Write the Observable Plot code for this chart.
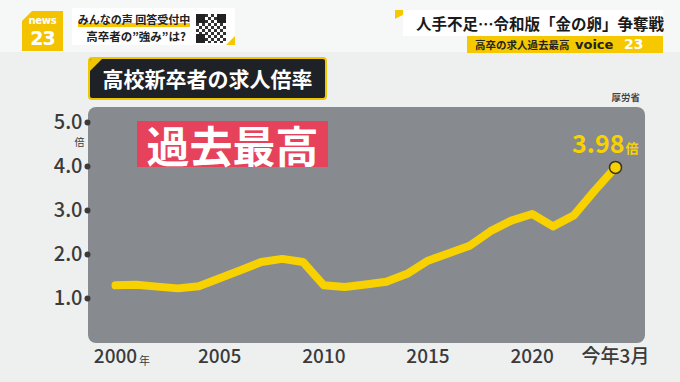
<!DOCTYPE html>
<html><head><meta charset="utf-8">
<script src="https://cdn.jsdelivr.net/npm/d3@7"></script>
<script src="https://cdn.jsdelivr.net/npm/@observablehq/plot@0.6"></script>
<style>
html,body{margin:0;padding:0;}
body{width:680px;height:382px;position:relative;overflow:hidden;background:#eef0f0;font-family:"Noto Sans CJK JP",sans-serif;}
.abs{position:absolute;}
#topband{left:0;top:0;width:680px;height:52px;background:#f6f7f7;}
#panel{left:88px;top:107px;width:557px;height:236px;background:#878b8f;border-radius:8px;}
#chart{position:absolute;left:0;top:0;}
#logo{left:22px;top:11px;width:41px;height:40px;background:#f3c300;clip-path:polygon(0 10px,10px 0,100% 0,100% 100%,0 100%);color:#fff;font-family:"DejaVu Sans",sans-serif;font-weight:bold;text-align:center;}
#logo .n{position:absolute;left:0;top:5px;width:41px;font-size:10px;line-height:10px;letter-spacing:-0.3px;}
#logo .t{position:absolute;left:0;top:17px;width:41px;font-size:19px;line-height:20px;letter-spacing:-1px;}
#box1{left:72px;top:8px;width:163px;height:37px;background:#fff;}
#box1 .l1{position:absolute;left:2px;top:3px;width:120px;font-size:11px;font-weight:bold;color:#222;line-height:16px;text-align:center;white-space:nowrap;}
#box1 .l1 span{background:linear-gradient(transparent 74%,#f5c800 74%);}
#box1 .l2{position:absolute;left:4px;top:20px;width:120px;font-size:11.5px;font-weight:bold;color:#222;line-height:16px;text-align:center;white-space:nowrap;}
#qr{left:196px;top:14px;width:30px;height:29px;background:
 linear-gradient(#222,#222) 0 0/9px 9px no-repeat,
 linear-gradient(#222,#222) 21px 0/9px 9px no-repeat,
 linear-gradient(#222,#222) 0 20px/9px 9px no-repeat,
 repeating-conic-gradient(#333 0 25%,#fff 0 50%) 0 0/6px 6px;}
#tri1{left:226px;top:36px;width:0;height:0;border-left:9px solid transparent;border-bottom:9px solid #f5c800;}
#box2{left:403px;top:10px;width:260px;height:26px;background:#fff;}
#box2 .t{position:absolute;left:13px;top:3px;font-size:15.5px;font-weight:bold;color:#1a1a1a;line-height:20px;white-space:nowrap;}
#tri2{left:395px;top:10px;width:0;height:0;border-top:9px solid #f5c800;border-right:17px solid transparent;}
#bar2{left:467px;top:36px;width:196px;height:17px;background:#f5c800;}
#bar2 .a{position:absolute;left:8px;top:0;font-size:10.5px;font-weight:bold;color:#222;line-height:17px;white-space:nowrap;}
#bar2 .v{position:absolute;left:108px;top:0;font-size:13px;font-weight:bold;color:#222;line-height:17px;font-family:"DejaVu Sans",sans-serif;}
#bar2 .n{position:absolute;left:157px;top:0;font-size:14px;font-weight:bold;color:#fff;line-height:17px;font-family:"DejaVu Sans",sans-serif;}
#titlebox{left:88px;top:57px;width:239px;height:43px;box-sizing:border-box;background:#1e2126;border:2px solid #efc600;border-radius:4px;color:#fff;font-size:21px;font-weight:bold;line-height:39px;text-align:center;overflow:hidden;}
#titlebox::before{content:"";position:absolute;left:0;top:0;border-top:12px solid #efc600;border-right:12px solid transparent;}
#record{left:137px;top:121px;width:191px;height:46px;background:#e6425b;color:#fff;font-size:43px;font-weight:bold;line-height:46px;text-align:center;}
#source{left:600px;top:90px;width:40px;text-align:right;font-size:9.5px;color:#444;font-weight:bold;}
</style></head>
<body>
<div id="topband" class="abs"></div>
<div id="panel" class="abs"></div>
<div id="chart"></div>
<div id="logo" class="abs"><div class="n">news</div><div class="t">23</div></div>
<div id="box1" class="abs"><div class="l1"><span>みんなの声 回答受付中</span></div><div class="l2">高卒者の”強み”は?</div></div>
<div id="qr" class="abs"></div>
<div id="tri1" class="abs"></div>
<div id="tri2" class="abs"></div>
<div id="box2" class="abs"><div class="t">人手不足…令和版「金の卵」争奪戦</div></div>
<div id="bar2" class="abs"><div class="a">高卒の求人過去最高</div><div class="v">voice</div><div class="n">23</div></div>
<div id="titlebox" class="abs">高校新卒者の求人倍率</div>
<div id="record" class="abs">過去最高</div>
<div id="source" class="abs">厚労省</div>
<script>
const years = [2000,2001,2002,2003,2004,2005,2006,2007,2008,2009,2010,2011,2012,2013,2014,2015,2016,2017,2018,2019,2020,2021,2022,2023,2024];
const ratios = [1.30,1.31,1.27,1.23,1.28,1.46,1.64,1.83,1.90,1.83,1.30,1.26,1.32,1.38,1.56,1.86,2.03,2.20,2.53,2.77,2.92,2.64,2.89,3.45,3.98];
const yTicks = [1,2,3,4,5];
const xTicks = [2000,2005,2010,2015,2020,2024];
const xTickLabels = ["2000","2005","2010","2015","2020","今年3月"];
const data = years.map((year,i)=>({year, value: ratios[i]}));
const last = data[data.length-1];
const ink = "#3b3b3b";
const yellow = "#f8d200";

const chart = Plot.plot({
  width:680, height:382,
  marginLeft:115, marginRight:65, marginTop:122, marginBottom:84,
  style:{background:"transparent", color:ink, fontFamily:"'Noto Sans CJK JP', sans-serif", overflow:"visible"},
  x:{domain:[2000,2024]},
  y:{domain:[1,5]},
  marks:[
    Plot.axisY(yTicks, {tickSize:0, tickPadding:33, tickFormat:d=>d.toFixed(1), fontSize:20, fontWeight:500, label:null, fill:ink}),
    Plot.dot(yTicks, {y:d=>d, frameAnchor:"left", dx:-28, r:3, fill:ink}),
    Plot.text([5], {y:d=>d, text:()=>"倍", frameAnchor:"left", dx:-41, dy:20, fontSize:10, fill:ink}),
    Plot.axisX(xTicks, {tickSize:0, tickPadding:51, tickFormat:d=>xTickLabels[xTicks.indexOf(d)], fontSize:19, fontWeight:500, label:null, fill:ink}),
    Plot.text([2000], {x:d=>d, text:()=>"年", frameAnchor:"bottom", lineAnchor:"bottom", dx:29, dy:66, fontSize:11, fill:ink}),
    Plot.line(data, {x:"year", y:"value", stroke:yellow, strokeWidth:8, strokeLinejoin:"round", strokeLinecap:"round"}),
    Plot.dot([last], {x:"year", y:"value", r:6, fill:yellow, stroke:"#3a3520", strokeWidth:1.5}),
    Plot.text([last], {x:"year", y:"value", text:d=>d.value.toFixed(2), textAnchor:"end", lineAnchor:"bottom", dx:9, dy:-14, fontSize:25, fontWeight:600, fill:yellow}),
    Plot.text([last], {x:"year", y:"value", text:()=>"倍", textAnchor:"start", lineAnchor:"bottom", dx:10, dy:-14, fontSize:13, fontWeight:600, fill:yellow})
  ]
});
document.getElementById("chart").appendChild(chart);
</script>
</body></html>
